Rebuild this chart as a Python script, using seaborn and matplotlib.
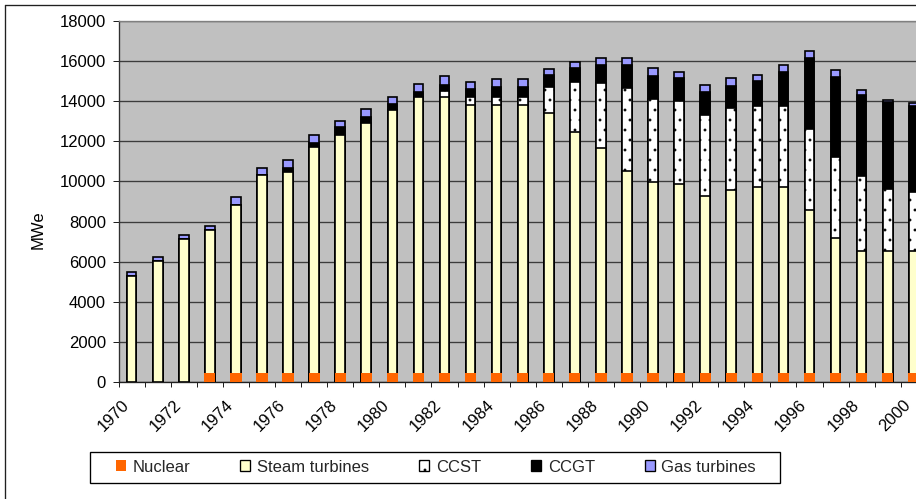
import matplotlib
matplotlib.use("Agg")
import matplotlib.pyplot as plt
import numpy as np
import pandas as pd
import seaborn as sns
from matplotlib.patches import Patch, Rectangle
from matplotlib.lines import Line2D

# Installed capacity by technology (MWe)
years = list(range(1970, 2001))
nuclear = [0, 0, 0] + [450] * 28
steam = [5300, 6030, 7140, 7140, 8400, 9850, 10020, 11250, 11880, 12450,
         13110, 13740, 13780, 13360, 13350, 13350, 12980, 12040, 11210, 10070,
         9520, 9440, 8840, 9110, 9290, 9270, 8110, 6710, 6080, 6080, 6080]
ccst = [0] * 12 + [300, 380, 430, 400, 1290, 2450, 3230, 4160,
                   4120, 4140, 4020, 4090, 4020, 4040, 4060, 4060, 3760, 3100, 2930]
ccgt = [0] * 6 + [220, 220, 400, 330, 280, 250, 280, 400, 480, 530, 610, 700, 930, 1140,
                  1180, 1140, 1140, 1130, 1240, 1710, 3540, 4010, 4010, 4310, 4300]
gas = [200, 190, 190, 210, 350, 390, 360, 390, 270, 380, 390, 430, 460, 350, 390, 380,
       300, 310, 350, 350, 370, 300, 380, 360, 310, 320, 330, 330, 250, 120, 140]
series_names = ["Nuclear", "Steam turbines", "CCST", "CCGT", "Gas turbines"]
yticks = list(range(0, 18001, 2000))

df = pd.DataFrame({"year": [str(y) for y in years], "Nuclear": nuclear,
                   "Steam turbines": steam, "CCST": ccst, "CCGT": ccgt,
                   "Gas turbines": gas})
stacked = df[series_names].cumsum(axis=1)

styles = {
    "Nuclear": dict(color="#FF6600", edgecolor="none", linewidth=0, width=0.43, hatch=None),
    "Steam turbines": dict(color="#FFFFCC", edgecolor="black", linewidth=1.0, width=0.37, hatch=None),
    "CCST": dict(color="white", edgecolor="black", linewidth=1.0, width=0.37, hatch=".."),
    "CCGT": dict(color="black", edgecolor="black", linewidth=1.0, width=0.37, hatch=None),
    "Gas turbines": dict(color="#9999FF", edgecolor="black", linewidth=1.0, width=0.37, hatch=None),
}

sns.set_theme(style="white")
plt.rcParams["font.family"] = ["Liberation Sans", "DejaVu Sans"]
plt.rcParams["hatch.linewidth"] = 0.5

FS = 10
DPI = 120
fig = plt.figure(figsize=(916 / DPI, 499 / DPI), dpi=DPI, facecolor="white")
W, H = 916.0, 499.0
ax_left, ax_right, ax_top, ax_bottom = 118.6, 926.8, 21.0, 382.0
ax = fig.add_axes([ax_left / W, 1 - ax_bottom / H, (ax_right - ax_left) / W,
                   (ax_bottom - ax_top) / H])
ax.set_facecolor("#C0C0C0")

# Stack by drawing cumulative totals from the top layer down
for name in reversed(series_names):
    st = styles[name]
    sns.barplot(x=df["year"], y=stacked[name], color=st["color"], saturation=1,
                width=st["width"], edgecolor=st["edgecolor"], linewidth=st["linewidth"],
                hatch=st["hatch"], errorbar=None, ax=ax, zorder=3)

ax.set_xlim(-0.5, len(years) - 0.5)
ax.set_ylim(0, 18000)
ax.set_yticks(yticks)
ax.set_yticklabels([str(v) for v in yticks])
ax.yaxis.grid(True, color="#3c3c3c", linewidth=0.8, zorder=0)
ax.xaxis.grid(False)
ax.set_axisbelow(True)

# Year labels every other category; the rotated text ends just left of the bar centre
label_idx = [i for i, y in enumerate(years) if y % 2 == 0]
ax.set_xticks([i - 0.2 for i in label_idx])
ax.set_xticklabels([str(years[i]) for i in label_idx], rotation=45, ha="right",
                   va="center", rotation_mode="anchor")
ax.set_xticks(np.arange(-0.5, len(years), 1.0), minor=True)
ax.tick_params(axis="x", which="major", length=0, pad=12.3, labelsize=FS, colors="black")
ax.tick_params(axis="x", which="minor", length=3.2, width=0.6, color="#202020", bottom=True)
ax.tick_params(axis="y", which="major", length=3.6, width=0.6, color="#202020",
               pad=4, labelsize=FS, left=True, labelcolor="black")

ax.set_xlabel("")
ax.set_ylabel("MWe", fontsize=FS, color="black")
ax.yaxis.set_label_coords((46 - ax_left) / (ax_right - ax_left), (ax_bottom - 230) / (ax_bottom - ax_top))

ax.spines["right"].set_visible(False)
ax.spines["top"].set_color("#808080")
ax.spines["top"].set_linewidth(0.8)
ax.spines["left"].set_color("#303030")
ax.spines["left"].set_linewidth(0.8)
ax.spines["bottom"].set_color("#202020")
ax.spines["bottom"].set_linewidth(0.8)

# Legend
handles = []
for name in series_names:
    st = styles[name]
    handles.append(Patch(facecolor=st["color"],
                         edgecolor=st["edgecolor"] if name != "Nuclear" else "none",
                         linewidth=0.8 if name != "Nuclear" else 0,
                         hatch=st["hatch"], label=name))
fig.legend(handles=handles, loc="center left", bbox_to_anchor=(116 / W, 1 - 467 / H),
           ncol=5, frameon=False, fontsize=FS, handlelength=0.6, handleheight=0.6,
           handletextpad=0.4, columnspacing=3.0, borderpad=0, borderaxespad=0)
fig.patches.append(Rectangle((90 / W, 1 - 483 / H), (780 - 90) / W, (483 - 452) / H,
                             transform=fig.transFigure, facecolor="white",
                             edgecolor="black", linewidth=0.8, zorder=0))

# Chart-area border
fig.add_artist(Line2D([5 / W, 5 / W], [0, 1 - 5 / H], transform=fig.transFigure,
                      color="#202020", linewidth=0.8))
fig.add_artist(Line2D([5 / W, 1], [1 - 5 / H, 1 - 5 / H], transform=fig.transFigure,
                      color="#202020", linewidth=0.8))

fig.savefig("out.png", dpi=DPI, facecolor="white")
